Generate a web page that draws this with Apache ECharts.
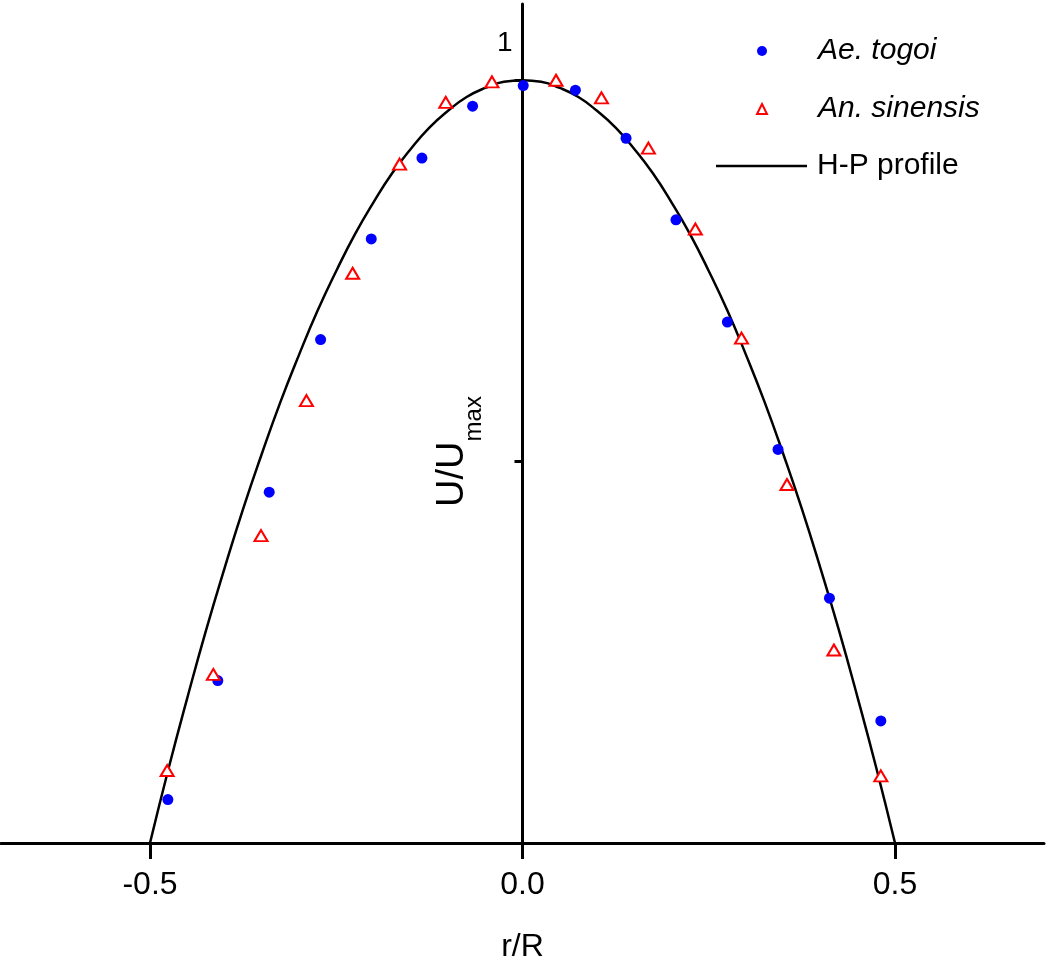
<!DOCTYPE html>
<html>
<head>
<meta charset="utf-8">
<script src="https://cdn.jsdelivr.net/npm/echarts@6/dist/echarts.min.js"></script>
<style>
  html, body { margin: 0; padding: 0; background: #fff; }
  #main { width: 1050px; height: 966px; }
</style>
</head>
<body>
<div id="main"></div>
<script>
// chart instance
var myChart = echarts.init(document.getElementById('main'));

// Ae. togoi (blue dots)
var togoiX = [-0.476, -0.409, -0.340, -0.271, -0.203, -0.135, -0.067, 0.001, 0.071, 0.139, 0.206, 0.275, 0.343, 0.412, 0.481];
var togoiY = [0.057, 0.213, 0.460, 0.660, 0.792, 0.898, 0.966, 0.993, 0.987, 0.924, 0.817, 0.683, 0.516, 0.321, 0.160];

// An. sinensis (red triangles)
var sinensisX = [-0.477, -0.415, -0.351, -0.290, -0.228, -0.165, -0.103, -0.041, 0.045, 0.106, 0.169, 0.232, 0.294, 0.355, 0.418, 0.481];
var sinensisY = [0.095, 0.221, 0.403, 0.580, 0.747, 0.890, 0.971, 0.998, 1.000, 0.977, 0.911, 0.805, 0.662, 0.470, 0.253, 0.088];

// H-P profile curve
var profileX = [-0.5, -0.475, -0.45, -0.425, -0.4, -0.375, -0.35, -0.325, -0.3, -0.275, -0.25, -0.225, -0.2, -0.175, -0.15, -0.125, -0.1, -0.075, -0.05, -0.025,
  0, 0.025, 0.05, 0.075, 0.1, 0.125, 0.15, 0.175, 0.2, 0.225, 0.25, 0.275, 0.3, 0.325, 0.35, 0.375, 0.4, 0.425, 0.45, 0.475, 0.5];
var profileY = [0, 0.098, 0.19, 0.278, 0.36, 0.438, 0.51, 0.578, 0.64, 0.698, 0.75, 0.798, 0.84, 0.878, 0.91, 0.938, 0.96, 0.978, 0.99, 0.998,
  1, 0.998, 0.99, 0.978, 0.96, 0.938, 0.91, 0.878, 0.84, 0.798, 0.75, 0.698, 0.64, 0.578, 0.51, 0.438, 0.36, 0.278, 0.19, 0.098, 0];

// axis ticks / labels
var xTicks = [-0.5, 0, 0.5];
var yTicks = [0.5, 1];
var yLabels = [1];

var seriesNames = ['Ae. togoi', 'An. sinensis', 'H-P profile'];

function pairs(xs, ys) {
  return xs.map(function (x, i) { return [x, ys[i]]; });
}

var font = 'Liberation Sans, Arial, sans-serif';
var legendText = { fontSize: 30, color: '#000', fontFamily: font };

var option = {
  animation: false,
  textStyle: { fontFamily: font, color: '#000' },
  grid: {
    left: 1,
    width: 1043,
    top: 4,
    bottom: 123,
    containLabel: false,
    outerBoundsMode: 'none'
  },
  legend: [
    {
      // symbol items
      orient: 'vertical',
      left: 751,
      top: 31,
      itemWidth: 10,
      itemHeight: 10,
      itemGap: 28,
      textStyle: Object.assign({ padding: [0, 0, 0, 46] }, legendText),
      data: [
        { name: seriesNames[0], textStyle: { fontStyle: 'italic' } },
        { name: seriesNames[1], textStyle: { fontStyle: 'italic' } }
      ]
    },
    {
      // line item
      orient: 'vertical',
      left: 711,
      top: 146,
      itemWidth: 91,
      itemHeight: 2.5,
      textStyle: Object.assign({ padding: [0, 0, 0, 5] }, legendText),
      data: [
        { name: seriesNames[2], icon: 'rect', itemStyle: { color: '#000' } }
      ]
    }
  ],
  xAxis: {
    type: 'value',
    min: -0.7,
    max: 0.7,
    name: 'r/R',
    nameLocation: 'middle',
    nameGap: 88,
    nameTextStyle: { fontSize: 32, color: '#000', fontFamily: font },
    axisLine: { onZero: false, lineStyle: { color: '#000', width: 3 } },
    axisTick: { customValues: xTicks, length: 16, lineStyle: { color: '#000', width: 3 } },
    axisLabel: {
      customValues: xTicks,
      margin: 26,
      fontSize: 32,
      color: '#000',
      fontFamily: font,
      formatter: function (v) { return v.toFixed(1); }
    },
    splitLine: { show: false }
  },
  yAxis: {
    type: 'value',
    min: 0,
    max: 1.1,
    // move the whole axis onto r/R = 0
    offset: -521.5,
    name: '{a|U/U}{b|max}',
    nameLocation: 'middle',
    nameRotate: 90,
    nameGap: 38,
    nameTextStyle: {
      padding: [0, 56, 0, 0],
      rich: {
        a: { fontSize: 38, lineHeight: 38, color: '#000', fontFamily: font },
        b: { fontSize: 24, lineHeight: 24, color: '#000', fontFamily: font, padding: [44, 0, 0, 0] }
      }
    },
    axisLine: { onZero: false, lineStyle: { color: '#000', width: 3 } },
    axisTick: { customValues: yTicks, length: 8, lineStyle: { color: '#000', width: 3 } },
    axisLabel: {
      customValues: yLabels,
      margin: 10,
      fontSize: 28,
      color: '#000',
      fontFamily: font,
      verticalAlign: 'bottom',
      padding: [0, 0, 23, 0]
    },
    splitLine: { show: false }
  },
  series: [
    {
      name: seriesNames[2],
      type: 'line',
      data: pairs(profileX, profileY),
      smooth: true,
      showSymbol: false,
      symbol: 'none',
      lineStyle: { color: '#000', width: 2.5 },
      itemStyle: { color: '#000' },
      z: 1
    },
    {
      name: seriesNames[0],
      type: 'scatter',
      data: pairs(togoiX, togoiY),
      symbol: 'circle',
      symbolSize: 11,
      itemStyle: { color: '#0000ff', opacity: 1 },
      z: 3
    },
    {
      name: seriesNames[1],
      type: 'scatter',
      data: pairs(sinensisX, sinensisY),
      symbol: 'triangle',
      symbolSize: [13, 11],
      itemStyle: { color: '#ffffff', borderColor: '#ff0000', borderWidth: 2, opacity: 1 },
      z: 3
    }
  ]
};

myChart.setOption(option);
</script>
</body>
</html>
